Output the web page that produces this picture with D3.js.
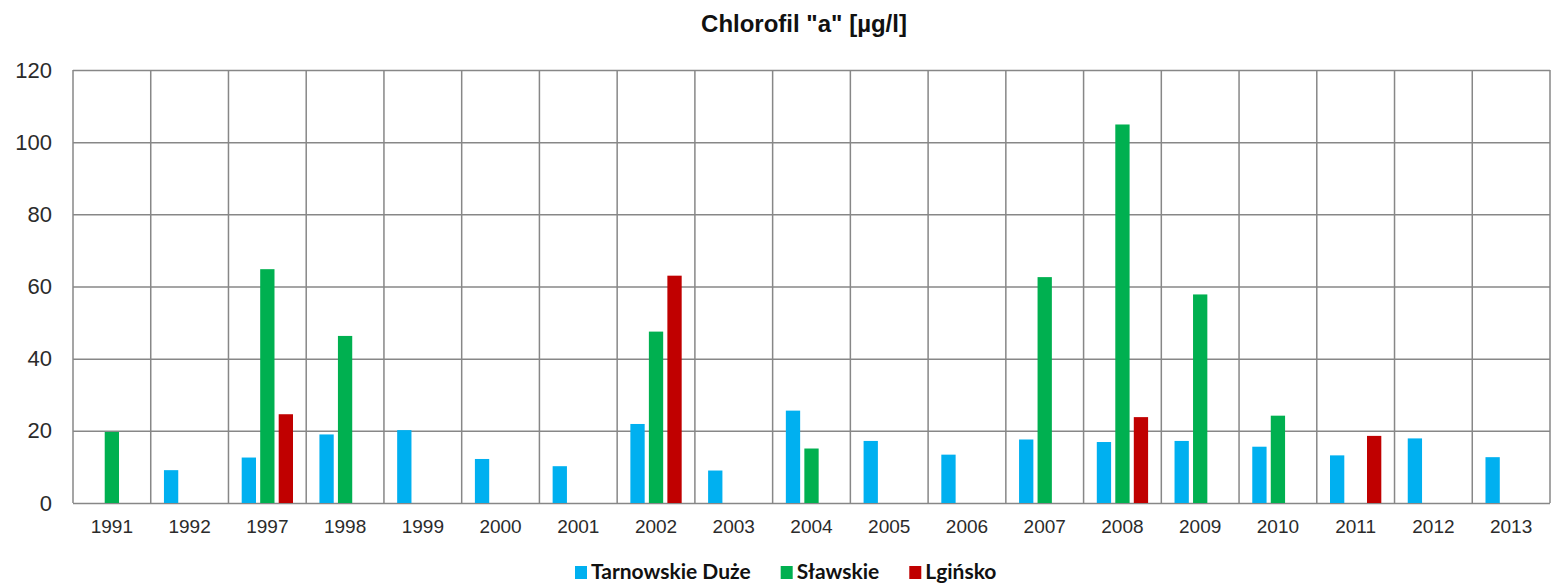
<!DOCTYPE html>
<html>
<head>
<meta charset="utf-8">
<script src="https://cdn.jsdelivr.net/npm/d3@7"></script>
<style>
  body { margin: 0; background: #fff; }
  svg { display: block; font-family: 'Liberation Sans', Arial, sans-serif; }
  .grid line { stroke: #878787; stroke-width: 1.5; }
</style>
</head>
<body>
<svg id="chart"></svg>
<script>
// ---------- data ----------
var years = ['1991', '1992', '1997', '1998', '1999', '2000', '2001', '2002', '2003', '2004',
             '2005', '2006', '2007', '2008', '2009', '2010', '2011', '2012', '2013'];
var seriesNames = ['Tarnowskie Duże', 'Sławskie', 'Lgińsko'];
var tarnowskie = [null, 9.1, 12.6, 19.0, 20.2, 12.2, 10.2, 21.9, 9.0, 25.6,
                  17.2, 13.4, 17.6, 16.9, 17.2, 15.6, 13.2, 17.9, 12.7];
var slawskie   = [19.7, null, 64.8, 46.3, null, null, null, 47.5, null, 15.1,
                  null, null, 62.6, 104.9, 57.8, 24.2, null, null, null];
var lginsko    = [null, null, 24.6, null, null, null, null, 63.0, null, null,
                  null, null, null, 23.8, null, null, 18.6, null, null];
var yTicks = [0, 20, 40, 60, 80, 100, 120];
var colors = ['#00b0f0', '#00b050', '#c00000'];
var title = 'Chlorofil "a" [µg/l]';

var width = 1551,
    height = 584,
    plotLeft = 73,
    plotRight = 1550,
    plotTop = 70,
    plotBottom = 503;

var svg = d3.select('svg#chart')
    .attr('width', width)
    .attr('height', height);

// ---------- scales ----------
var x0 = d3.scaleBand()
    .domain(years)
    .range([plotLeft, plotRight]);
var step = x0.bandwidth() * 0.238;
var x1 = d3.scaleBand()
    .domain(seriesNames)
    .range([-1.5 * step, 1.5 * step])
    .paddingInner(0.227)
    .paddingOuter(0.1135);
var y = d3.scaleLinear()
    .domain([0, 120])
    .range([plotBottom, plotTop]);

// ---------- horizontal grid + y labels ----------
var yAxis = d3.axisLeft(y)
    .tickValues(yTicks)
    .tickSize(-(plotRight - plotLeft))
    .tickPadding(21)
    .tickFormat(d3.format('d'));
svg.append('g')
    .attr('class', 'grid')
    .attr('transform', 'translate(' + plotLeft + ',0)')
    .call(yAxis)
    .call(g => g.select('.domain').remove())
    .call(g => g.selectAll('text')
        .style('font-size', '22px')
        .attr('fill', '#2b2b2b'));

// ---------- vertical grid at category borders ----------
var borders = years.map(d => x0(d)).concat([plotRight]);
svg.append('g')
    .attr('class', 'grid')
  .selectAll('line')
  .data(borders)
  .enter()
    .append('line')
    .attr('x1', d => d)
    .attr('x2', d => d)
    .attr('y1', plotTop)
    .attr('y2', plotBottom);

// ---------- x labels ----------
svg.append('g')
    .attr('transform', 'translate(0,' + plotBottom + ')')
    .call(d3.axisBottom(x0).tickSize(0).tickPadding(17))
    .call(g => g.select('.domain').remove())
    .call(g => g.selectAll('text')
        .style('font-size', '19px')
        .attr('fill', '#2b2b2b'));

// ---------- bars ----------
var table = years.map((yr, i) => ({
  year: yr,
  values: [tarnowskie[i], slawskie[i], lginsko[i]]
}));

var groups = svg.append('g')
  .selectAll('g')
  .data(table)
  .enter()
    .append('g')
    .attr('transform', d => 'translate(' + (x0(d.year) + x0.bandwidth() / 2) + ',0)');

groups.selectAll('rect')
  .data(d => d.values.map((v, k) => ({ key: seriesNames[k], k: k, v: v })).filter(e => e.v != null))
  .enter()
    .append('rect')
    .attr('x', e => x1(e.key))
    .attr('width', x1.bandwidth())
    .attr('y', e => y(e.v))
    .attr('height', e => y(0) - y(e.v))
    .attr('fill', e => colors[e.k]);

// ---------- title ----------
svg.append('text')
    .attr('x', 804)
    .attr('y', 32)
    .style('text-anchor', 'middle')
    .style('font-size', '24px')
    .style('font-weight', 'bold')
    .attr('fill', '#111')
    .text(title);

// ---------- legend ----------
var legend = svg.append('g');
var lx = 575;
seriesNames.forEach((name, k) => {
  legend.append('rect')
      .attr('x', lx)
      .attr('y', 566)
      .attr('width', 12)
      .attr('height', 13)
      .attr('fill', colors[k]);
  var t = legend.append('text')
      .attr('x', lx + 16)
      .attr('y', 579)
      .style('font-family', 'Lato, sans-serif')
      .style('font-size', '21px')
      .style('font-weight', 'bold')
      .attr('fill', '#111')
      .text(name);
  lx += 16 + t.node().getComputedTextLength() + 30;
});
</script>
</body>
</html>
